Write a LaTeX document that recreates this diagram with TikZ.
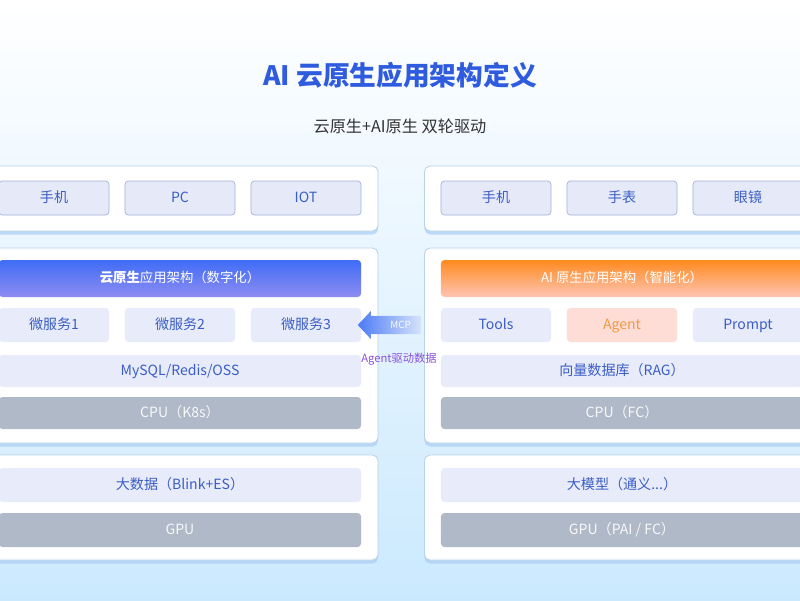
\documentclass[tikz,border=0pt]{standalone}
\usepackage{fontspec}
\setmainfont{Noto Sans CJK SC}
\usepackage{tikz}
\usetikzlibrary{positioning,shapes.arrows,shadows}
\usepackage{xcolor}
\definecolor{TitleBlue}{HTML}{2F5BDF}
\definecolor{SubGray}{HTML}{333333}
\definecolor{BgBlue}{HTML}{CBE9FE}
\definecolor{PanelLine}{HTML}{B8D2EA}
\definecolor{ShadowBlue}{HTML}{A9CDF2}
\definecolor{DeviceFill}{HTML}{E6EAF8}
\definecolor{DeviceLine}{HTML}{A3B2D6}
\definecolor{RowFill}{HTML}{E8EBF9}
\definecolor{TextBlue}{HTML}{3B5EC6}
\definecolor{CpuGray}{HTML}{AFB9C7}
\definecolor{HeadTop}{HTML}{3F6DF6}
\definecolor{HeadBot}{HTML}{8E8CF1}
\definecolor{OrangeTop}{HTML}{FF8A1E}
\definecolor{OrangeBot}{HTML}{FEC4B4}
\definecolor{AgentFill}{HTML}{FDDDD5}
\definecolor{AgentText}{HTML}{EE9A45}
\definecolor{ArrowBlue}{HTML}{4C7BF5}
\definecolor{ArrowLight}{HTML}{D6E3FA}
\definecolor{DrivePurple}{HTML}{8A4FD8}

\begin{document}
\begin{tikzpicture}[x=0.025cm,y=-0.025cm,
  panel/.style={draw=PanelLine,fill=white,rounded corners=4pt,line width=0.6pt,
    drop shadow={shadow xshift=0pt,shadow yshift=-2.5pt,fill=ShadowBlue,opacity=0.7},
    minimum width=9.875cm,inner sep=0pt},
  device/.style={draw=DeviceLine,fill=DeviceFill,rounded corners=2.5pt,line width=0.5pt,
    minimum width=2.75cm,minimum height=0.85cm,text=TextBlue,font=\fontsize{10}{12}\selectfont,
    text height=0.8em,text depth=0.2em},
  service/.style={fill=RowFill,rounded corners=2.5pt,minimum width=2.75cm,minimum height=0.85cm,
    text=TextBlue,font=\fontsize{10}{12}\selectfont,text height=0.8em,text depth=0.2em},
  agent/.style={service,fill=AgentFill,text=AgentText},
  wide/.style={service,minimum width=9.05cm,minimum height=0.8cm},
  cpu/.style={wide,fill=CpuGray,text=white!92!CpuGray},
  header/.style={rounded corners=2.5pt,minimum width=9.05cm,minimum height=0.925cm,
    text=white,font=\fontsize{9.5}{12}\selectfont,text height=0.8em,text depth=0.2em}
]
\clip (0,0) rectangle (800,600);
\shade[top color=white,middle color=BgBlue!45,bottom color=BgBlue] (0,0) rectangle (800,600);

% title
\node[text=TitleBlue,font=\fontsize{19}{22}\selectfont\bfseries] (title) at (400,75) {AI 云原生应用架构定义};
\node[text=SubGray,font=\fontsize{11.5}{14}\selectfont] (subtitle) at (400,126) {云原生+AI原生 双轮驱动};

% panels
\node[panel,minimum height=1.625cm] (endL) at (180.5,198.5) {};
\node[panel,minimum height=1.625cm] (endR) at (622,198.5) {};
\node[panel,minimum height=4.875cm] (appL) at (180.5,345.5) {};
\node[panel,minimum height=4.875cm] (appR) at (622,345.5) {};
\node[panel,minimum height=2.625cm] (dataL) at (180.5,507.5) {};
\node[panel,minimum height=2.625cm] (dataR) at (622,507.5) {};

% devices
\foreach \lbl [count=\i] in {手机,PC,IOT}
  \node[device] (devL\i) at ({54+126*(\i-1)},198) {\lbl};
\foreach \lbl [count=\i] in {手机,手表,眼镜}
  \node[device] (devR\i) at ({496+126*(\i-1)},198) {\lbl};

% left stack
\node[header,top color=HeadTop,bottom color=HeadBot] (headL) at (180,278.5) {\textbf{云原生}应用架构（数字化）};
\foreach \lbl [count=\i] in {微服务1,微服务2,微服务3}
  \node[service] (svcL\i) at ({54+126*(\i-1)},325) {\lbl};
\node[wide] (storeL) at (180,371) {MySQL/Redis/OSS};
\node[cpu] (cpuL) at (180,413) {CPU（K8s）};

% right stack
\node[header,top color=OrangeTop,bottom color=OrangeBot] (headR) at (622,278.5) {AI 原生应用架构（智能化）};
\foreach \lbl/\sty [count=\i] in {Tools/service,Agent/agent,Prompt/service}
  \node[\sty] (svcR\i) at ({496+126*(\i-1)},325) {\lbl};
\node[wide] (storeR) at (622,371) {向量数据库（RAG）};
\node[cpu] (cpuR) at (622,413) {CPU（FC）};

% data layer
\node[service,minimum width=9.05cm] (bigL) at (180,485) {大数据（Blink+ES）};
\node[cpu,minimum height=0.85cm] (gpuL) at (180,530) {GPU};
\node[service,minimum width=9.05cm] (bigR) at (622,485) {大模型（通义...）};
\node[cpu,minimum height=0.85cm] (gpuR) at (622,530) {GPU（PAI / FC）};

% MCP link
\node[single arrow,shape border rotate=180,left color=ArrowBlue,right color=ArrowLight,
  minimum width=0.7cm,minimum height=1.575cm,single arrow head extend=0.075cm,
  single arrow tip angle=94,inner sep=1pt,
  text=white!85!ArrowLight,font=\fontsize{7}{8}\selectfont] (mcp) at (393.5,325) {\hspace{10pt}MCP};
\node[text=DrivePurple,font=\fontsize{8}{10}\selectfont] (drive) at (399,359) {Agent驱动数据};
\end{tikzpicture}
\end{document}
